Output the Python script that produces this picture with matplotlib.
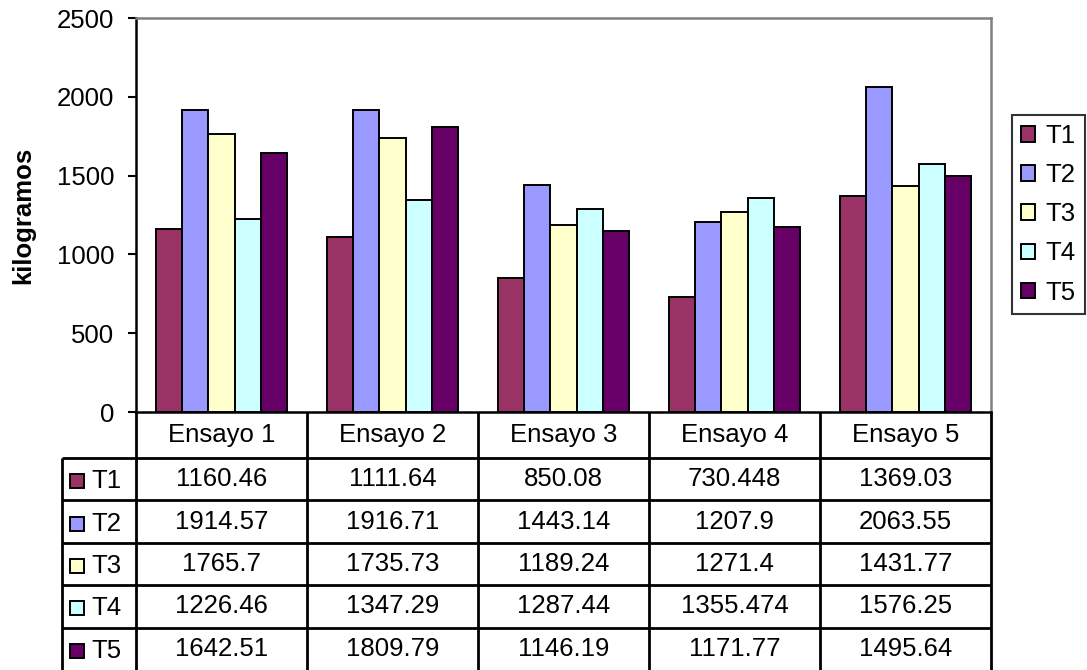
"""
plot.py — Rendimiento por ensayo (kilogramos) con tabla de datos al estilo Excel.
"""
import numpy as np
import matplotlib
matplotlib.use("Agg")
import matplotlib.pyplot as plt
from matplotlib.patches import Rectangle

plt.rcParams["font.family"] = ["Liberation Sans", "DejaVu Sans"]

# Data
ensayos = ["Ensayo 1", "Ensayo 2", "Ensayo 3", "Ensayo 4", "Ensayo 5"]
series = ["T1", "T2", "T3", "T4", "T5"]
t1 = [1160.46, 1111.64, 850.08, 730.448, 1369.03]
t2 = [1914.57, 1916.71, 1443.14, 1207.9, 2063.55]
t3 = [1765.7, 1735.73, 1189.24, 1271.4, 1431.77]
t4 = [1226.46, 1347.29, 1287.44, 1355.474, 1576.25]
t5 = [1642.51, 1809.79, 1146.19, 1171.77, 1495.64]
y_ticks = [0, 500, 1000, 1500, 2000, 2500]

values = [t1, t2, t3, t4, t5]
colors = ["#993366", "#9999FF", "#FFFFCC", "#CCFFFF", "#660066"]
FS = 18.5

W, H = 1087, 670
fig = plt.figure(figsize=(W / 100, H / 100), dpi=100)

# plot area (pixel bounds from the reference)
left, right, top, bottom = 136, 991, 18, 412
ax = fig.add_axes([left / W, 1 - bottom / H, (right - left) / W, (bottom - top) / H])

n_groups = len(ensayos)
bar_w = 0.154
x = np.arange(n_groups) + 0.5
for k, (name, vals) in enumerate(zip(series, values)):
    offs = (k - 2) * bar_w
    ax.bar(x + offs, vals, width=bar_w, color=colors[k], edgecolor="black",
           linewidth=1.4, label=name, zorder=3)

ax.set_xlim(0, n_groups)
ax.set_ylim(0, 2500)
ax.set_yticks(y_ticks)
ax.set_yticklabels([str(v) for v in y_ticks], fontsize=FS)
ax.set_xticks([])
ax.tick_params(axis="y", direction="out", length=5.8, width=1.5, pad=10)
ax.set_ylabel("kilogramos", fontsize=FS, fontweight="bold")
ax.yaxis.set_label_coords(-0.118, 0.5)
for s in ["left", "bottom"]:
    ax.spines[s].set_linewidth(1.8)
    ax.spines[s].set_color("black")
for s in ["top", "right"]:
    ax.spines[s].set_linewidth(1.8)
    ax.spines[s].set_color("#808080")

leg = ax.legend(loc="upper left", bbox_to_anchor=(1.0246, 0.754), fontsize=FS,
                frameon=True, fancybox=False, edgecolor="black",
                handlelength=0.55, handleheight=0.55, handletextpad=0.4,
                labelspacing=0.59, borderpad=0.35, borderaxespad=0)
leg.get_frame().set_linewidth(1.5)

# data table below the plot
tab_left = 62
col_px = (right - left) / n_groups
label_w = (left - tab_left) / col_px
tax = fig.add_axes([tab_left / W, 0, (right - tab_left) / W, (H - bottom) / H])
tax.set_xlim(-label_w, n_groups)
head_h = 46
total = H - bottom
row_h = (total - head_h) / len(series)
# y in pixel units, downwards from the plot bottom
tax.set_ylim(total, 0)
tax.axis("off")

lw = 2
# vertical lines
for i in range(n_groups + 1):
    tax.plot([i, i], [0, total], color="black", lw=lw, clip_on=False, solid_capstyle="butt")
tax.plot([-label_w, -label_w], [head_h, total], color="black", lw=lw, clip_on=False,
         solid_capstyle="butt")
# horizontal lines
for r in range(len(series)):
    y = head_h + r * row_h
    tax.plot([-label_w, n_groups], [y, y], color="black", lw=lw, clip_on=False,
             solid_capstyle="butt")

for i, name in enumerate(ensayos):
    tax.text(i + 0.5, head_h / 2, name, ha="center", va="center", fontsize=FS)

sq = 14
for r, (name, vals) in enumerate(zip(series, values)):
    yc = head_h + r * row_h + row_h / 2
    tax.add_patch(Rectangle((-label_w + 8 / col_px, yc - sq / 2 + 2), sq / col_px, sq,
                            facecolor=colors[r], edgecolor="black", lw=1.4, clip_on=False))
    tax.text(-label_w + 29 / col_px, yc + 2, name, ha="left", va="center", fontsize=FS)
    for i, v in enumerate(vals):
        tax.text(i + 0.5, yc, f"{v}", ha="center", va="center", fontsize=FS)

fig.savefig("out.png", dpi=100)
